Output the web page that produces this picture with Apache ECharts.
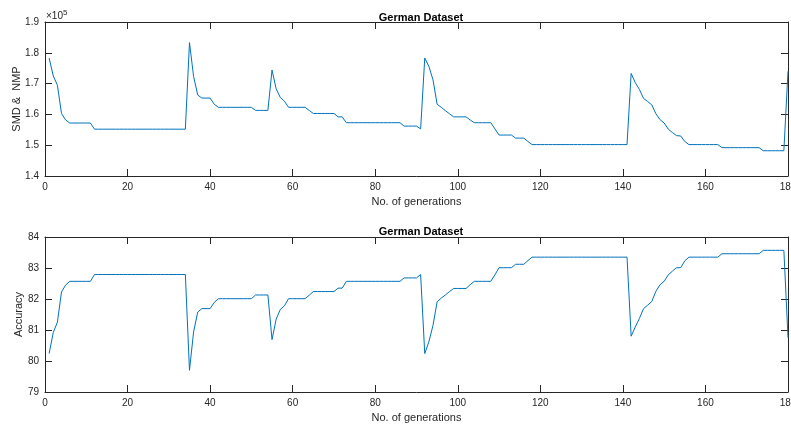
<!DOCTYPE html>
<html>
<head>
<meta charset="utf-8">
<script src="https://cdn.jsdelivr.net/npm/echarts@6/dist/echarts.min.js"></script>
<style>
html,body{margin:0;padding:0;background:#fff;}
#chart{width:791px;height:427px;}
</style>
</head>
<body>
<div id="chart"></div>
<script>
// x values: generation number
const generations = [
1,2,3,4,5,6,7,8,9,10,11,12,13,14,15,16,17,18,19,20,
21,22,23,24,25,26,27,28,29,30,31,32,33,34,35,36,37,38,39,40,
41,42,43,44,45,46,47,48,49,50,51,52,53,54,55,56,57,58,59,60,
61,62,63,64,65,66,67,68,69,70,71,72,73,74,75,76,77,78,79,80,
81,82,83,84,85,86,87,88,89,90,91,92,93,94,95,96,97,98,99,100,
101,102,103,104,105,106,107,108,109,110,111,112,113,114,115,116,117,118,119,120,
121,122,123,124,125,126,127,128,129,130,131,132,133,134,135,136,137,138,139,140,
141,142,143,144,145,146,147,148,149,150,151,152,153,154,155,156,157,158,159,160,
161,162,163,164,165,166,167,168,169,170,171,172,173,174,175,176,177,178,179,180
];

// SMD & NMP (raw values, axis shown in units of 10^5)
const smdNmp = [
178300,172500,169500,160300,158200,157200,157200,157200,157200,157200,157200,
155200,155200,155200,155200,155200,155200,155200,155200,155200,155200,155200,155200,
155200,155200,155200,155200,155200,155200,155200,155200,155200,155200,155200,
183300,172300,166300,165300,165300,165300,163300,
162300,162300,162300,162300,162300,162300,162300,162300,162300,
161300,161300,161300,161300,
174400,168300,165500,164300,
162300,162300,162300,162300,162300,
161300,
160300,160300,160300,160300,160300,160300,
159200,159200,
157300,157300,157300,157300,157300,157300,157300,157300,157300,157300,157300,157300,157300,157300,
156200,156200,156200,156200,
155300,178300,175600,171200,163300,162300,161200,160200,
159200,159200,159200,159200,
158200,
157300,157300,157300,157300,157300,
155300,
153300,153300,153300,153300,
152300,152300,152300,
151200,
150200,150200,150200,150200,150200,150200,150200,150200,150200,150200,150200,150200,
150200,150200,150200,150200,150200,150200,150200,150200,150200,150200,150200,150200,
173300,170300,168100,165200,164200,163100,160200,158300,157200,155200,154100,153100,153000,151200,
150200,150200,150200,150200,150200,150200,150200,150200,
149200,149200,149200,149200,149200,149200,149200,149200,149200,149200,
148200,148200,148200,148200,148200,148200,
174000
];

const accuracy = [
80.24,80.92,81.25,82.23,82.45,
82.57,82.57,82.57,82.57,82.57,82.57,
82.79,82.79,82.79,82.79,82.79,82.79,82.79,82.79,82.79,82.79,82.79,82.79,
82.79,82.79,82.79,82.79,82.79,82.79,82.79,82.79,82.79,82.79,82.79,
79.70,80.94,81.58,81.69,81.69,81.69,81.89,
82.01,82.01,82.01,82.01,82.01,82.01,82.01,82.01,82.01,
82.13,82.13,82.13,82.13,
80.69,81.35,81.66,81.78,
82.01,82.01,82.01,82.01,82.01,
82.12,
82.24,82.24,82.24,82.24,82.24,82.24,
82.35,82.35,
82.57,82.57,82.57,82.57,82.57,82.57,82.57,82.57,82.57,82.57,82.57,82.57,82.57,82.57,
82.68,82.68,82.68,82.68,
82.79,80.24,80.62,81.15,81.91,82.03,82.13,82.24,
82.34,82.34,82.34,82.34,
82.46,
82.57,82.57,82.57,82.57,82.57,
82.78,
83.01,83.01,83.01,83.01,
83.12,83.12,83.12,
83.24,
83.35,83.35,83.35,83.35,83.35,83.35,83.35,83.35,83.35,83.35,83.35,83.35,
83.35,83.35,83.35,83.35,83.35,83.35,83.35,83.35,83.35,83.35,83.35,83.35,
80.80,81.10,81.37,81.69,81.80,81.92,82.25,82.46,82.57,82.78,82.90,83.01,83.01,83.23,
83.35,83.35,83.35,83.35,83.35,83.35,83.35,83.35,
83.46,83.46,83.46,83.46,83.46,83.46,83.46,83.46,83.46,83.46,
83.57,83.57,83.57,83.57,83.57,83.57,
80.75
];

const titleText = 'German Dataset';
const xName = 'No. of generations';
const yName1 = 'SMD &  NMP';
const yName2 = 'Accuracy';

const FONT = '"Liberation Sans", Arial, Helvetica, sans-serif';
const AX = '#262626';
const LINE = '#0072BD';

function pairs(ys){ return generations.map((g,i)=>[g, ys[i]]); }

function xAx(grid, main){
  return {
    type:'value', gridIndex:grid, min:0, max:180, interval:20,
    position: main ? 'bottom' : 'top',
    name: main ? xName : '', nameLocation:'middle', nameGap:20, nameMoveOverlap:false,
    nameTextStyle:{fontFamily:FONT, fontSize:11, color:AX},
    axisLine:{show:true, onZero:false, lineStyle:{color:AX, width:1}},
    axisTick:{show:true, inside:true, length:7, lineStyle:{color:AX}},
    axisLabel:{show:main, fontFamily:FONT, fontSize:10, color:AX, margin:6, hideOverlap:false},
    splitLine:{show:false}
  };
}
function yAx(grid, main, min, max, interval, name, fmt, gap){
  return {
    type:'value', gridIndex:grid, min:min, max:max, interval:interval,
    position: main ? 'left' : 'right',
    name: main ? name : '', nameLocation:'middle', nameGap:gap, nameMoveOverlap:false,
    nameTextStyle:{fontFamily:FONT, fontSize:11, color:AX},
    axisLine:{show:true, onZero:false, lineStyle:{color:AX, width:1}},
    axisTick:{show:true, inside:true, length:7, lineStyle:{color:AX}},
    axisLabel:{show:main, fontFamily:FONT, fontSize:10, color:AX, margin:6, formatter:fmt},
    splitLine:{show:false}
  };
}

const chart = echarts.init(document.getElementById('chart'), null, {renderer:'canvas'});
chart.setOption({
  animation:false,
  backgroundColor:'#fff',
  title:[
    {text:titleText, left:416, top:7, textAlign:'center',
     textStyle:{fontFamily:FONT, fontSize:11, fontWeight:'bold', color:'#000'}},
    {text:titleText, left:416, top:221, textAlign:'center',
     textStyle:{fontFamily:FONT, fontSize:11, fontWeight:'bold', color:'#000'}}
  ],
  grid:[
    {left:45, width:743, top:22, height:154, outerBoundsMode:'none', containLabel:false},
    {left:45, width:743, top:237, height:155, outerBoundsMode:'none', containLabel:false}
  ],
  xAxis:[xAx(0,true), xAx(0,false), xAx(1,true), xAx(1,false)],
  yAxis:[
    yAx(0,true,140000,190000,10000,yName1,v=>(v/1e5).toFixed(1),23),
    yAx(0,false,140000,190000,10000,'',null,0),
    yAx(1,true,79,84,1,yName2,v=>String(v),21),
    yAx(1,false,79,84,1,'',null,0)
  ],
  graphic:[
    {type:'text', left:46, top:9,
     style:{text:'×10{s|5}', fontFamily:FONT, fontSize:10, fill:AX,
       rich:{s:{fontSize:8, verticalAlign:'top', padding:[0,0,6,0], fontFamily:FONT, fill:AX}}}}
  ],
  series:[
    {type:'line', xAxisIndex:0, yAxisIndex:0, data:pairs(smdNmp), showSymbol:false,
     lineStyle:{color:LINE, width:1}, itemStyle:{color:LINE}},
    {type:'line', xAxisIndex:2, yAxisIndex:2, data:pairs(accuracy), showSymbol:false,
     lineStyle:{color:LINE, width:1}, itemStyle:{color:LINE}}
  ]
});
</script>
</body>
</html>
